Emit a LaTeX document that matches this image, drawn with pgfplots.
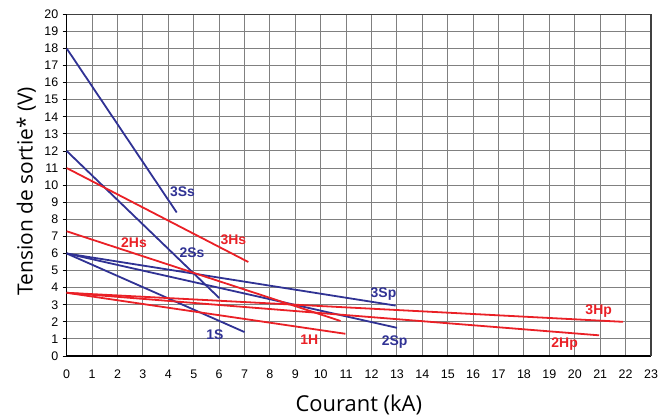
\documentclass[border=0pt]{standalone}
\usepackage{pgfplots}
\pgfplotsset{compat=1.18}
\usepackage{fontspec}
\setmainfont{Liberation Sans}
\newfontfamily\labfont{Open Sans}
\definecolor{cblue}{RGB}{48,50,148}
\definecolor{cred}{RGB}{234,32,38}
\definecolor{cgrid}{RGB}{128,128,128}
\begin{document}
\begin{tikzpicture}
\begin{axis}[
  scale only axis,
  width=584.3bp, height=341.7bp,
  xmin=0, xmax=23, ymin=0, ymax=20,
  xtick={0,...,23}, ytick={0,...,20},
  grid=major,
  major grid style={draw=cgrid, line width=1bp},
  axis line style={line width=1.4bp},
  axis x line*=bottom, axis y line*=left,
  xtick style={draw=none},
  ytick style={draw=black, line width=0.9bp},
  tick align=outside,
  major tick length=4bp,
  /pgf/number format/assume math mode=true,
  ticklabel style={font=\fontsize{12.5}{13}\selectfont},
  xticklabel style={yshift=-6bp},
  yticklabel style={xshift=-1bp},
  xlabel={Courant (kA)},
  ylabel={Tension de sortie* (V)},
  xlabel style={font=\labfont\fontsize{22}{24}\selectfont, yshift=-10bp},
  ylabel style={font=\labfont\fontsize{21}{23}\selectfont, yshift=1.5bp, xshift=-6bp},
  clip=false,
]
% frame top/right
\draw[draw=black!75, line width=1.4bp] (axis cs:0,20) -- (axis cs:23,20) -- (axis cs:23,0);
% blue lines
\addplot[cblue, line width=1.8bp] coordinates {(0,18) (4.33,8.4)};
\addplot[cblue, line width=1.8bp] coordinates {(0,12) (6,3.4)};
\addplot[cblue, line width=1.8bp] coordinates {(0,6) (7,1.4)};
\addplot[cblue, line width=1.8bp] coordinates {(0,6) (12.95,2.95)};
\addplot[cblue, line width=1.8bp] coordinates {(0,6) (13,1.65)};
% red lines
\addplot[cred, line width=1.8bp] coordinates {(0,11) (7.15,5.5)};
\addplot[cred, line width=1.8bp] coordinates {(0,7.3) (10.78,2.05)};
\addplot[cred, line width=1.8bp] coordinates {(0,3.7) (10.97,1.3)};
\addplot[cred, line width=1.8bp] coordinates {(0,3.7) (21.9,2.0)};
\addplot[cred, line width=1.8bp] coordinates {(0,3.7) (20.96,1.21)};
% labels
\begin{scope}[every node/.style={font=\bfseries\fontsize{14}{15}\selectfont}]
\node[text=cblue] at (axis cs:4.56,9.62) {3Ss};
\node[text=cred] at (axis cs:2.65,6.66) {2Hs};
\node[text=cblue] at (axis cs:4.93,6.07) {2Ss};
\node[text=cred] at (axis cs:6.56,6.79) {3Hs};
\node[text=cblue] at (axis cs:5.83,1.27) {1S};
\node[text=cred] at (axis cs:9.55,0.94) {1H};
\node[text=cblue] at (axis cs:12.47,3.63) {3Sp};
\node[text=cblue] at (axis cs:12.91,0.84) {2Sp};
\node[text=cred] at (axis cs:20.94,2.63) {3Hp};
\node[text=cred] at (axis cs:19.6,0.70) {2Hp};
\end{scope}
\end{axis}
\pgfresetboundingbox
\path ([shift={(-66.7bp,-60bp)}]current axis.south west) rectangle ([shift={(15bp,14.3bp)}]current axis.north east);
\end{tikzpicture}
\end{document}
